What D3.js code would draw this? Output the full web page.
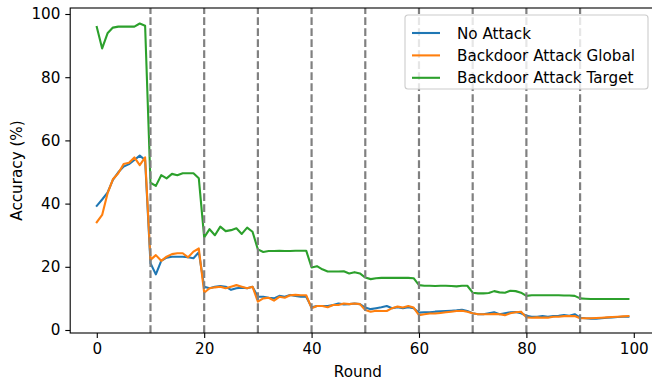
<!DOCTYPE html>
<html>
<head>
<meta charset="utf-8">
<script src="https://d3js.org/d3.v7.min.js"></script>
<style>
  body { margin: 0; background: #fff; }
  svg { display: block; font-family: "DejaVu Sans", sans-serif; }
</style>
</head>
<body>
<svg id="chart" width="652" height="381"></svg>
<script>
// rounds 0..99
var rounds = d3.range(0, 100);

var noAttack = [
  39.3, 41.3, 43.5, 47.5, 49.9, 51.7, 52.5, 53.8, 55.2, 53.8,
  21.1, 17.6, 21.9, 22.9, 23.2, 23.2, 23.2, 23.0, 22.7, 24.6,
  13.7, 13.2, 13.7, 13.9, 13.7, 12.7, 13.2, 13.4, 13.2, 13.7,
  10.5, 10.5, 10.2, 10.0, 10.8, 10.5, 11.1, 10.8, 10.5, 10.5,
  7.2, 7.6, 7.6, 7.6, 7.9, 8.4, 8.1, 8.2, 8.4, 8.2,
  7.1, 6.6, 6.9, 7.2, 7.6, 6.9, 7.2, 6.9, 7.2, 6.9,
  5.5, 5.6, 5.6, 5.8, 5.9, 6.0, 6.1, 6.2, 6.4, 6.0,
  5.3, 5.0, 5.0, 5.3, 5.6, 5.0, 5.3, 5.6, 5.7, 5.3,
  4.5, 4.2, 4.2, 4.4, 4.2, 4.4, 4.5, 4.7, 4.5, 5.0,
  3.9, 3.7, 3.6, 3.6, 3.7, 3.9, 4.0, 4.1, 4.2, 4.2
];

var backdoorGlobal = [
  34.1, 36.4, 43.2, 47.7, 49.6, 52.5, 52.9, 54.6, 52.2, 54.6,
  22.2, 23.7, 21.9, 23.2, 24.0, 24.3, 24.3, 23.0, 24.8, 25.8,
  11.8, 13.2, 13.5, 13.7, 13.2, 13.7, 14.2, 13.7, 13.2, 13.7,
  9.0, 10.0, 10.2, 9.3, 10.5, 10.2, 11.0, 11.1, 11.0, 11.0,
  6.9, 7.6, 7.6, 7.2, 7.9, 7.9, 8.4, 8.2, 8.4, 8.2,
  6.3, 5.8, 6.1, 6.0, 6.0, 6.9, 7.4, 7.1, 7.6, 7.1,
  4.7, 5.0, 5.2, 5.2, 5.4, 5.6, 5.8, 6.0, 6.1, 5.8,
  5.3, 5.0, 5.0, 5.0, 5.1, 5.0, 4.7, 5.3, 5.6, 5.8,
  4.0, 3.9, 4.0, 3.9, 3.9, 4.2, 4.2, 4.4, 4.4, 4.4,
  3.7, 3.7, 3.7, 3.8, 3.9, 4.0, 4.1, 4.2, 4.3, 4.4
];

var backdoorTarget = [
  95.9, 89.1, 93.9, 95.7, 96.0, 96.0, 96.0, 96.0, 97.0, 96.3,
  46.6, 45.6, 49.0, 48.0, 49.4, 49.0, 49.6, 49.6, 49.6, 48.0,
  29.3, 31.9, 30.0, 32.7, 31.3, 31.6, 32.2, 30.4, 32.4, 31.1,
  25.5, 24.7, 25.0, 25.0, 25.1, 25.0, 25.0, 25.1, 25.1, 25.1,
  19.8, 20.2, 19.2, 18.5, 18.5, 18.5, 18.6, 17.9, 18.3, 17.9,
  16.6, 16.1, 16.4, 16.5, 16.5, 16.5, 16.5, 16.5, 16.5, 16.4,
  14.2, 14.0, 14.0, 13.9, 14.0, 14.0, 13.9, 13.8, 14.0, 14.0,
  11.8, 11.6, 11.6, 11.7, 12.3, 11.9, 11.8, 12.4, 12.3, 11.8,
  10.8, 11.0, 11.0, 11.0, 11.0, 11.0, 11.0, 10.9, 10.9, 10.8,
  10.0, 9.9, 9.8, 9.8, 9.8, 9.8, 9.8, 9.8, 9.8, 9.8
];

var attackRounds = [10, 20, 30, 40, 50, 60, 70, 80, 90];
var xTicks = [0, 20, 40, 60, 80, 100];
var yTicks = [0, 20, 40, 60, 80, 100];

var series = [
  { name: "No Attack", values: noAttack, color: "#1f77b4" },
  { name: "Backdoor Attack Global", values: backdoorGlobal, color: "#ff7f0e" },
  { name: "Backdoor Attack Target", values: backdoorTarget, color: "#2ca02c" }
];

var svg = d3.select("#chart");

// axes box (right edge falls just off the picture)
var x = d3.scaleLinear().domain([-4.95, 103.95]).range([70.2, 655]);
var y = d3.scaleLinear().domain([-0.95, 101.9]).range([333, 8]);

var fs = 15.2;

var g = svg.append("g");

var line = d3.line()
  .x(function(d, i) { return x(rounds[i]); })
  .y(function(d) { return y(d); });

series.forEach(function(s) {
  g.append("path")
    .attr("d", line(s.values))
    .attr("fill", "none")
    .attr("stroke", s.color)
    .attr("stroke-width", 2.1)
    .attr("stroke-linejoin", "round")
    .attr("stroke-linecap", "square");
});

// attack rounds
g.selectAll(".vline")
  .data(attackRounds)
  .enter()
  .append("line")
  .attr("class", "vline")
  .attr("x1", d => x(d))
  .attr("x2", d => x(d))
  .attr("y1", y.range()[0])
  .attr("y2", y.range()[1])
  .attr("stroke", "#808080")
  .attr("stroke-width", 2.2)
  .attr("stroke-dasharray", "7.7,3.3");

// axes
var xAxis = d3.axisBottom(x).tickValues(xTicks).tickSize(4.9).tickPadding(4.9).tickFormat(d3.format("d"));
var yAxis = d3.axisLeft(y).tickValues(yTicks).tickSize(4.9).tickPadding(4.9).tickFormat(d3.format("d"));

var gx = svg.append("g").attr("transform", "translate(0," + y.range()[0] + ")").call(xAxis);
var gy = svg.append("g").attr("transform", "translate(" + x.range()[0] + ",0)").call(yAxis);

[gx, gy].forEach(function(a) {
  a.select(".domain").remove();
  a.selectAll("line").attr("stroke", "#000").attr("stroke-width", 1.1);
  a.selectAll("text").attr("fill", "#000").style("font-size", fs + "px").style("font-family", "DejaVu Sans");
});

// spines
var x0 = x.range()[0], x1 = x.range()[1], y0 = y.range()[0], y1 = y.range()[1];
svg.append("rect")
  .attr("x", x0).attr("y", y1)
  .attr("width", x1 - x0).attr("height", y0 - y1)
  .attr("fill", "none").attr("stroke", "#000").attr("stroke-width", 1.1);

// axis labels
svg.append("text")
  .attr("x", (x0 + 633.6) / 2 + 6)
  .attr("y", 377)
  .attr("text-anchor", "middle")
  .style("font-size", fs + "px")
  .text("Round");

svg.append("text")
  .attr("transform", "translate(22," + ((y0 + y1) / 2) + ") rotate(-90)")
  .attr("text-anchor", "middle")
  .style("font-size", fs + "px")
  .text("Accuracy (%)");

// legend
var lg = svg.append("g").attr("transform", "translate(405,15)");
lg.append("rect")
  .attr("width", 243).attr("height", 74)
  .attr("rx", 3).attr("ry", 3)
  .attr("fill", "#fff").attr("fill-opacity", 0.8)
  .attr("stroke", "#cccccc").attr("stroke-width", 1.1);

series.forEach(function(s, i) {
  var ly = 18 + i * 22.4;
  lg.append("line")
    .attr("x1", 7).attr("x2", 35)
    .attr("y1", ly).attr("y2", ly)
    .attr("stroke", s.color).attr("stroke-width", 2.1);
  lg.append("text")
    .attr("x", 52).attr("y", ly + 5.5)
    .style("font-size", fs + "px")
    .text(s.name);
});
</script>
</body>
</html>
